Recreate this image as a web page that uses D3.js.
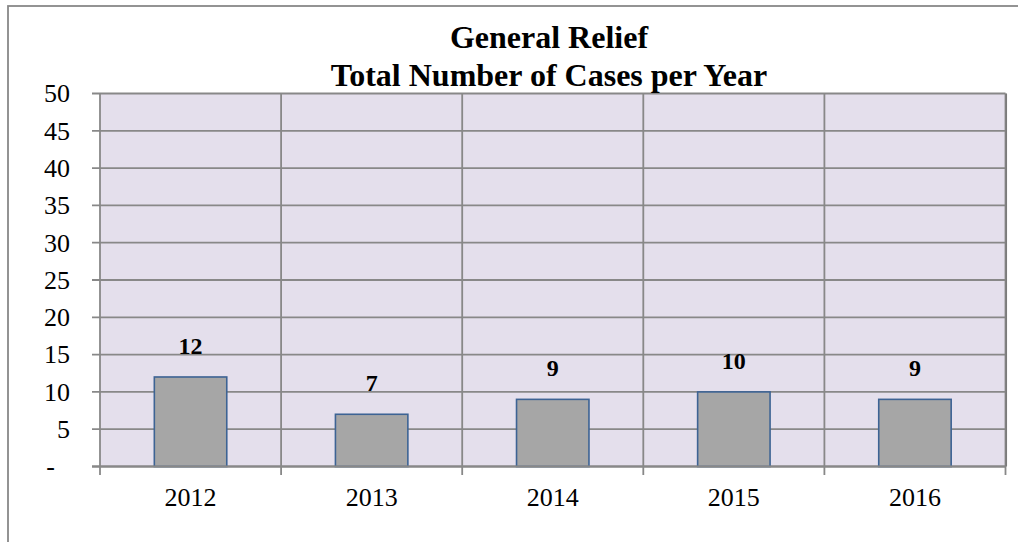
<!DOCTYPE html>
<html>
<head>
<meta charset="utf-8">
<script src="https://cdn.jsdelivr.net/npm/d3@7"></script>
<style>
  html, body { margin: 0; padding: 0; background: #ffffff; }
  svg { display: block; }
  svg text { font-family: "Liberation Serif", "DejaVu Serif", "Times New Roman", Times, serif; }
</style>
</head>
<body>
<svg id="chart" width="1018" height="542"></svg>
<script>
const titleLines = ["General Relief", "Total Number of Cases per Year"];
const categories = ["2012", "2013", "2014", "2015", "2016"];
const cases = [12, 7, 9, 10, 9];
const yTicks = [0, 5, 10, 15, 20, 25, 30, 35, 40, 45, 50];
const yTickLabels = ["-", "5", "10", "15", "20", "25", "30", "35", "40", "45", "50"];

(function () {
const svg = d3.select("#chart");
const pL = 100, pR = 1005.5, pT = 93.5, pB = 466.5;
const gridColor = "#888888";

svg.append("rect")
  .attr("x", 8).attr("y", 6)
  .attr("width", 1200).attr("height", 800)
  .attr("fill", "#ffffff")
  .attr("stroke", gridColor).attr("stroke-width", 1.8);

const x = d3.scaleBand().domain(categories).range([pL, pR]).paddingInner(0).paddingOuter(0);
const y = d3.scaleLinear().domain([0, 50]).range([pB, pT]);

svg.append("rect")
  .attr("x", pL).attr("y", pT)
  .attr("width", pR - pL).attr("height", pB - pT)
  .attr("fill", "#e4dfec");

const g = svg.append("g");
g.selectAll("line.h").data(yTicks).join("line")
  .attr("class", "h")
  .attr("x1", pL - 8).attr("x2", pR)
  .attr("y1", d => y(d)).attr("y2", d => y(d))
  .attr("stroke", gridColor).attr("stroke-width", 1.8);

const bounds = categories.map(c => x(c)).concat([x(categories[categories.length - 1]) + x.step()]);
g.selectAll("line.v").data(bounds).join("line")
  .attr("class", "v")
  .attr("x1", d => d).attr("x2", d => d)
  .attr("y1", pT).attr("y2", pB + 8.5)
  .attr("stroke", gridColor).attr("stroke-width", 1.8);

svg.append("line")
  .attr("x1", pR + 0.8).attr("x2", pR + 0.8)
  .attr("y1", pT).attr("y2", pB)
  .attr("stroke", "#7a7a7a").attr("stroke-width", 1.5);

const barW = x.step() * 0.4;
svg.selectAll("rect.bar").data(cases).join("rect")
  .attr("class", "bar")
  .attr("x", (d, i) => x(categories[i]) + x.step() / 2 - barW / 2)
  .attr("y", d => y(d))
  .attr("width", barW)
  .attr("height", d => y(0) - y(d))
  .attr("fill", "#a6a6a6")
  .attr("stroke", "#3d6394").attr("stroke-width", 1.6);

svg.append("line")
  .attr("x1", pL - 8).attr("x2", pR)
  .attr("y1", y(0)).attr("y2", y(0))
  .attr("stroke", gridColor).attr("stroke-width", 1.8);

svg.selectAll("text.lbl").data(cases).join("text")
  .attr("class", "lbl")
  .attr("x", (d, i) => x(categories[i]) + x.step() / 2)
  .attr("y", d => y(d) - 23)
  .attr("text-anchor", "middle")
  .attr("font-weight", "bold").attr("font-size", 24)
  .attr("fill", "#000")
  .text(d => d);

svg.selectAll("text.yt").data(yTicks).join("text")
  .attr("class", "yt")
  .attr("x", (d, i) => yTickLabels[i] === "-" ? 55 : 70)
  .attr("y", d => y(d))
  .attr("dy", "0.34em")
  .attr("text-anchor", "end")
  .attr("font-size", 26)
  .attr("fill", "#000")
  .text((d, i) => yTickLabels[i]);

svg.selectAll("text.xt").data(categories).join("text")
  .attr("class", "xt")
  .attr("x", d => x(d) + x.step() / 2)
  .attr("y", 506)
  .attr("text-anchor", "middle")
  .attr("font-size", 26)
  .attr("fill", "#000")
  .text(d => d);

svg.selectAll("text.title").data(titleLines).join("text")
  .attr("class", "title")
  .attr("x", 549)
  .attr("y", (d, i) => 48 + i * 38)
  .attr("text-anchor", "middle")
  .attr("font-weight", "bold").attr("font-size", 32)
  .attr("fill", "#000")
  .text(d => d);
})();
</script>
</body>
</html>
